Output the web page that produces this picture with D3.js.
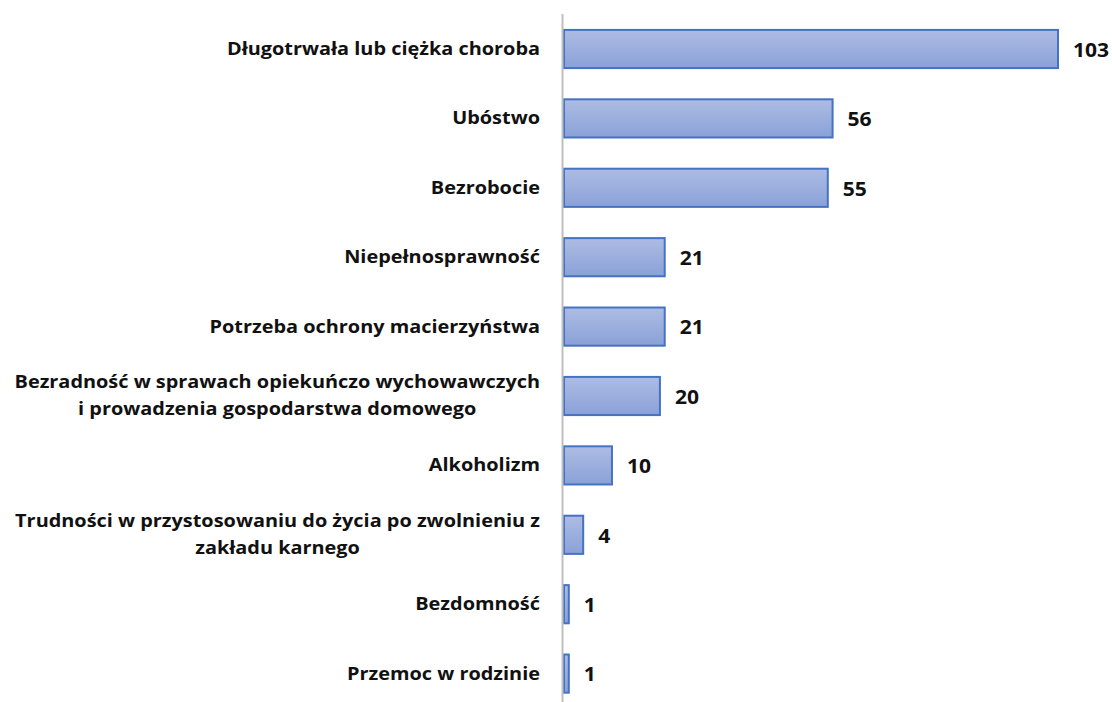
<!DOCTYPE html>
<html>
<head>
<meta charset="utf-8">
<script src="https://cdn.jsdelivr.net/npm/d3@7"></script>
<style>
  body { margin: 0; background: #fff; }
  text { font-family: "Open Sans", "Noto Sans", sans-serif; font-weight: bold; fill: #111; }
</style>
</head>
<body>
<script>
// categories (each entry is the lines of its label)
const categories = [
  ["Długotrwała lub ciężka choroba"],
  ["Ubóstwo"],
  ["Bezrobocie"],
  ["Niepełnosprawność"],
  ["Potrzeba ochrony macierzyństwa"],
  ["Bezradność w sprawach opiekuńczo wychowawczych", "i prowadzenia gospodarstwa domowego"],
  ["Alkoholizm"],
  ["Trudności w przystosowaniu do życia po zwolnieniu z", "zakładu karnego"],
  ["Bezdomność"],
  ["Przemoc w rodzinie"]
];
const values = [103, 56, 55, 21, 21, 20, 10, 4, 1, 1];

const width = 1112, height = 702;
const x0 = 564;
const labelRight = 540;

const svg = d3.select("body").append("svg")
  .attr("width", width)
  .attr("height", height);

const defs = svg.append("defs");
const grad = defs.append("linearGradient")
  .attr("id", "barGrad")
  .attr("x1", 0).attr("y1", 0).attr("x2", 0).attr("y2", 1);
grad.append("stop").attr("offset", "0%").attr("stop-color", "#adbce3");
grad.append("stop").attr("offset", "100%").attr("stop-color", "#8aa1d8");

const idx = d3.range(categories.length);

const xScale = d3.scaleLinear()
  .domain([0, 103])
  .range([x0, 1058]);

const yScale = d3.scaleBand()
  .domain(idx)
  .range([14.3, 708.3])
  .paddingInner(0.45)
  .paddingOuter(0.225);

// bars
svg.selectAll("rect.bar")
  .data(idx)
  .enter().append("rect")
  .attr("class", "bar")
  .attr("x", xScale(0))
  .attr("y", (i) => yScale(i))
  .attr("width", (i) => xScale(values[i]) - xScale(0))
  .attr("height", yScale.bandwidth())
  .style("fill", "url(#barGrad)")
  .style("stroke", "#4472c4")
  .style("stroke-width", 2);

// vertical axis line
svg.append("line")
  .attr("x1", x0 - 1.5).attr("x2", x0 - 1.5)
  .attr("y1", 14).attr("y2", height)
  .style("stroke", "#bfbfbf")
  .style("stroke-width", 2);

// category labels (font is a bit wide in the original, so stretch horizontally)
const labels = svg.selectAll("text.cat")
  .data(idx)
  .enter().append("text")
  .attr("class", "cat")
  .attr("text-anchor", "middle")
  .attr("transform", `translate(${labelRight},0) scale(1.17,1) translate(${-labelRight},0)`)
  .style("font-size", "17px");

labels.each(function(i) {
  const lines = categories[i];
  const cy = yScale(i) + yScale.bandwidth() / 2;
  const t = d3.select(this);
  lines.forEach((ln, k) => {
    t.append("tspan")
      .attr("y", cy + (k - (lines.length - 1) / 2) * 27)
      .attr("dy", "0.35em")
      .text(ln);
  });
  // centre the block on its widest line, right edge at labelRight
  const spans = t.selectAll("tspan").nodes();
  const maxW = d3.max(spans, (s) => s.getComputedTextLength());
  t.selectAll("tspan").attr("x", labelRight - maxW / 2);
});

// value labels
svg.selectAll("text.val")
  .data(idx)
  .enter().append("text")
  .attr("class", "val")
  .attr("transform", (i) => {
    const x = xScale(values[i]) + 15;
    return `translate(${x},0) scale(1.08,1) translate(${-x},0)`;
  })
  .attr("x", (i) => xScale(values[i]) + 15)
  .attr("y", (i) => yScale(i) + yScale.bandwidth() / 2 + 1)
  .attr("dy", "0.35em")
  .style("font-size", "19.5px")
  .text((i) => values[i]);
</script>
</body>
</html>
